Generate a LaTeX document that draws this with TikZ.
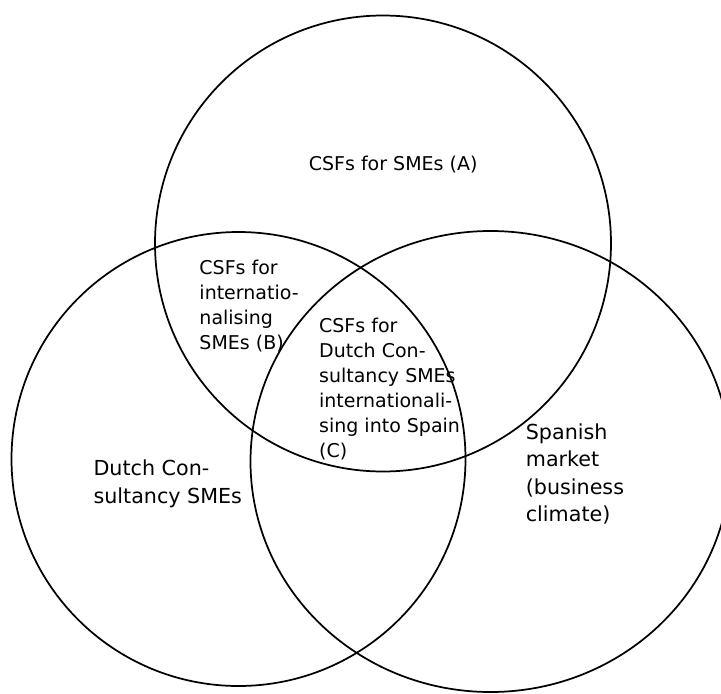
\documentclass[tikz,border=0pt]{standalone}
\usepackage{fontspec}
\setmainfont{DejaVu Sans}
\usepackage{xcolor}
\usepackage{tikz}
\definecolor{vennline}{RGB}{0,0,0}

\begin{document}
\begin{tikzpicture}[x=0.75pt, y=-0.75pt, line width=1.3pt,
  every node/.style={inner sep=0pt, anchor=north west, align=left},
  setsmall/.style={font=\fontsize{14.25}{18.75}\selectfont},
  setlarge/.style={font=\fontsize{15.5}{20.6}\selectfont}]
  \useasboundingbox (0,0) rectangle (721,693);
  % the three sets
  \draw[vennline] (383,243.5) circle[radius=228];
  \draw[vennline] (238.5,459) circle[radius=227];
  \draw[vennline] (490.5,461.5) ellipse[x radius=240, y radius=230.5];
  % labels
  \node[setsmall] (smes) at (308,155.6) {CSFs for SMEs (A)};
  \node[setsmall] (intl) at (198.6,258.9) {CSFs for\\internatio-\\nalising\\SMEs (B)};
  \node[setsmall] (core) at (318.3,317.3) {CSFs for\\Dutch Con-\\sultancy SMEs\\internationali-\\sing into Spain\\(C)};
  \node[setlarge] (dutch) at (92.7,459.3) {Dutch Con-\\sultancy SMEs};
  \node[setlarge] (spain) at (525,422.6) {Spanish\\market\\(business\\climate)};
\end{tikzpicture}
\end{document}
